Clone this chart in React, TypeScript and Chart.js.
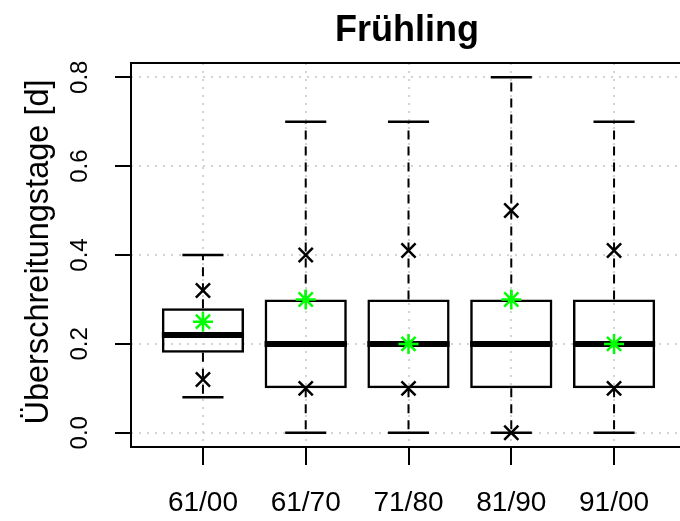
import React, { useEffect, useRef } from "react";
import { Chart, registerables } from "chart.js";

Chart.register(...registerables);

const categories = ["61/00", "61/70", "71/80", "81/90", "91/00"];
const positions = [1, 2, 3, 4, 5];
const whiskerLow = [0.08, 0, 0, 0, 0];
const q1 = [0.18, 0.1, 0.1, 0.1, 0.1];
const median = [0.22, 0.2, 0.2, 0.2, 0.2];
const q3 = [0.28, 0.3, 0.3, 0.3, 0.3];
const whiskerHigh = [0.4, 0.7, 0.7, 0.8, 0.7];
const p10 = [0.12, 0.1, 0.1, 0, 0.1];
const p90 = [0.32, 0.4, 0.41, 0.5, 0.41];
const means = [0.25, 0.3, 0.2, 0.3, 0.2];
const yTicks = [0, 0.2, 0.4, 0.6, 0.8];
const yTickLabels = ["0.0", "0.2", "0.4", "0.6", "0.8"];

const TITLE = "Frühling";
const Y_LABEL = "Überschreitungstage [d]";
const FONT = "'Liberation Sans', Arial, Helvetica, sans-serif";

const BOX_HALF = 0.4;
const CAP_HALF = 0.2;

export default function App() {
  const ref = useRef<HTMLCanvasElement | null>(null);

  useEffect(() => {
    if (!ref.current) return;
    Chart.defaults.font.family = FONT;

    const whiskerData: any[] = [];
    const capData: any[] = [];
    const medianData: any[] = [];
    positions.forEach((x, i) => {
      whiskerData.push({ x, y: q1[i] }, { x, y: whiskerLow[i] }, { x, y: null });
      whiskerData.push({ x, y: q3[i] }, { x, y: whiskerHigh[i] }, { x, y: null });
      capData.push({ x: x - CAP_HALF, y: whiskerLow[i] }, { x: x + CAP_HALF, y: whiskerLow[i] }, { x, y: null });
      capData.push({ x: x - CAP_HALF, y: whiskerHigh[i] }, { x: x + CAP_HALF, y: whiskerHigh[i] }, { x, y: null });
      medianData.push({ x: x - BOX_HALF, y: median[i] }, { x: x + BOX_HALF, y: median[i] }, { x, y: null });
    });

    const textPlugin = {
      id: "texts",
      afterDraw(chart: any) {
        const ctx = chart.ctx;
        const area = chart.chartArea;
        const yScale = chart.scales.y;
        ctx.save();
        // plot box
        ctx.strokeStyle = "#000";
        ctx.lineWidth = 2;
        ctx.setLineDash([]);
        ctx.strokeRect(area.left, area.top, area.right - area.left, area.bottom - area.top);
        ctx.fillStyle = "#000";
        // title
        ctx.font = `bold 36px ${FONT}`;
        ctx.textAlign = "center";
        ctx.textBaseline = "alphabetic";
        ctx.fillText(TITLE, 407, 41);
        // y tick labels
        ctx.font = `24px ${FONT}`;
        yTicks.forEach((v, i) => {
          const py = yScale.getPixelForValue(v);
          ctx.save();
          ctx.translate(87, py);
          ctx.rotate(-Math.PI / 2);
          ctx.fillText(yTickLabels[i], 0, 0);
          ctx.restore();
        });
        // y axis label
        ctx.font = `32.5px ${FONT}`;
        ctx.save();
        ctx.translate(48, (area.top + area.bottom) / 2 - 3);
        ctx.rotate(-Math.PI / 2);
        ctx.fillText(Y_LABEL, 0, 0);
        ctx.restore();
        ctx.restore();
      },
    };

    const chart = new Chart(ref.current, {
      type: "bar",
      data: {
        datasets: [
          {
            type: "line",
            label: "whiskers",
            data: whiskerData,
            borderColor: "#000",
            borderWidth: 2,
            borderDash: [9, 7],
            pointRadius: 0,
            spanGaps: false,
            fill: false,
            order: 5,
          } as any,
          {
            type: "bar",
            label: "box",
            data: positions.map((x, i) => ({ x, y: [q1[i], q3[i]] })),
            backgroundColor: "rgba(0,0,0,0)",
            borderColor: "#000",
            borderWidth: 2.5,
            borderSkipped: false,
            barPercentage: 0.8,
            categoryPercentage: 1,
            order: 4,
          } as any,
          {
            type: "line",
            label: "median",
            data: medianData,
            borderColor: "#000",
            borderWidth: 6,
            borderCapStyle: "butt",
            pointRadius: 0,
            spanGaps: false,
            fill: false,
            order: 3,
          } as any,
          {
            type: "line",
            label: "caps",
            data: capData,
            borderColor: "#000",
            borderWidth: 2.5,
            borderCapStyle: "butt",
            pointRadius: 0,
            spanGaps: false,
            fill: false,
            order: 2,
          } as any,
          {
            type: "scatter",
            label: "p10/p90",
            data: [
              ...positions.map((x, i) => ({ x, y: p10[i] })),
              ...positions.map((x, i) => ({ x, y: p90[i] })),
            ],
            pointStyle: "crossRot",
            pointRadius: 10,
            borderColor: "#000",
            borderWidth: 2.5,
            order: 1,
          } as any,
          {
            type: "scatter",
            label: "mean",
            data: positions.map((x, i) => ({ x, y: means[i] })),
            pointStyle: "star",
            pointRadius: 10,
            borderColor: "#00ff00",
            backgroundColor: "#00ff00",
            borderWidth: 2.5,
            order: 0,
          } as any,
        ],
      },
      options: {
        animation: false,
        responsive: false,
        devicePixelRatio: 1,
        layout: { padding: { top: 63, left: 0, right: 14, bottom: 0 } },
        plugins: {
          legend: { display: false },
          tooltip: { enabled: false },
          title: { display: false },
        },
        scales: {
          x: {
            type: "linear",
            min: 0.3,
            max: 5.7,
            offset: false,
            position: "bottom",
            afterBuildTicks: (s: any) => {
              s.ticks = positions.map((v) => ({ value: v }));
            },
            afterFit: (s: any) => {
              s.height = 74;
            },
            ticks: {
              autoSkip: false,
              maxRotation: 0,
              minRotation: 0,
              padding: 21,
              color: "#000",
              font: { size: 28, family: FONT },
              callback: (v: any) => categories[Math.round(Number(v)) - 1] ?? "",
            },
            grid: {
              offset: false,
              color: "#d3d3d3",
              lineWidth: 2,
              drawTicks: true,
              tickLength: 18,
              tickColor: "#000",
              tickWidth: 2,
            },
            border: { display: false, dash: [2, 6] },
          },
          y: {
            type: "linear",
            min: -0.032,
            max: 0.832,
            afterBuildTicks: (s: any) => {
              s.ticks = yTicks.map((v) => ({ value: v }));
            },
            afterFit: (s: any) => {
              s.width = 131;
            },
            ticks: { display: false },
            grid: {
              color: "#d3d3d3",
              lineWidth: 2,
              drawTicks: true,
              tickLength: 16,
              tickColor: "#000",
              tickWidth: 2,
            },
            border: { display: false, dash: [2, 6] },
          },
        },
      } as any,
      plugins: [textPlugin],
    });
    return () => chart.destroy();
  }, []);

  return (
    <div
      style={{
        position: "fixed",
        left: 0,
        top: 0,
        width: 680,
        height: 521,
        overflow: "hidden",
        background: "#fff",
      }}
    >
      <canvas ref={ref} width={700} height={521} style={{ display: "block" }} />
    </div>
  );
}
